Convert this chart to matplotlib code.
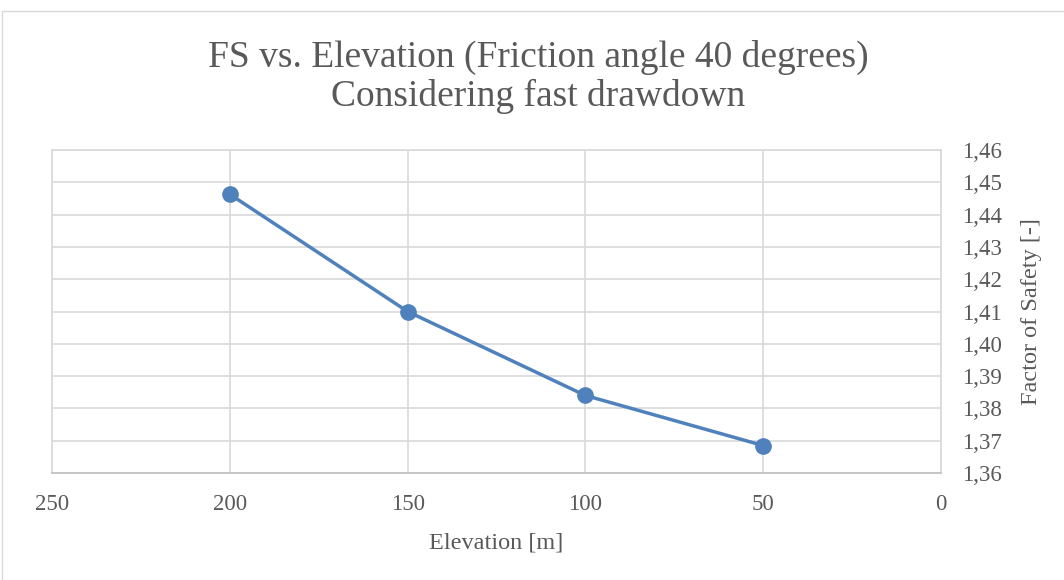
import matplotlib.pyplot as plt
from matplotlib.patches import Rectangle
from matplotlib.ticker import FuncFormatter

elevation = [200, 150, 100, 50]
fs = [1.4463, 1.4100, 1.3840, 1.3685]
x_ticks = [250, 200, 150, 100, 50, 0]
y_ticks = [1.36, 1.37, 1.38, 1.39, 1.40, 1.41, 1.42, 1.43, 1.44, 1.45, 1.46]

plt.rcParams['font.family'] = ['Liberation Serif', 'DejaVu Serif']
txt = '#595959'
grid = '#d9d9d9'
blue = '#4f81bd'

fig = plt.figure(figsize=(10.64, 5.8), dpi=100)
# chart area border
fig.patches.append(Rectangle((2 / 1064, -0.01), 1.02, 1 - 11 / 580 + 0.01,
                             transform=fig.transFigure, fill=False,
                             edgecolor=grid, linewidth=1))

ax = fig.add_axes([52 / 1064, 1 - 473 / 580, (941 - 52) / 1064, (473 - 150) / 580])
ax.plot(elevation, fs, color=blue, linewidth=2.5, marker='o', markersize=11, zorder=3)

ax.set_xlim(250, 0)
ax.set_ylim(1.36, 1.46)
ax.set_xticks(x_ticks)
ax.set_yticks(y_ticks)
ax.yaxis.tick_right()
ax.yaxis.set_label_position('right')
ax.yaxis.set_major_formatter(FuncFormatter(lambda v, p: f'{v:.2f}'.replace('.', ',')))
ax.grid(True, color=grid, linewidth=1.2)
ax.set_axisbelow(True)
ax.tick_params(length=0, labelsize=16.5, labelcolor=txt)
ax.tick_params(axis='y', pad=15)
ax.tick_params(axis='x', pad=15)
for s in ['top', 'left', 'right']:
    ax.spines[s].set_color(grid)
    ax.spines[s].set_linewidth(1.2)
ax.spines['bottom'].set_color('#bfbfbf')
ax.spines['bottom'].set_linewidth(1.2)

ax.set_xlabel('Elevation [m]', fontsize=17.5, color=txt, labelpad=13)
ax.set_ylabel('Factor of Safety [-]', fontsize=17.5, color=txt, labelpad=14)

fig.text(538 / 1064, 1 - 77 / 580, 'FS vs. Elevation (Friction angle 40 degrees)\nConsidering fast drawdown',
         ha='center', va='center', fontsize=27, color=txt, linespacing=1.12)

fig.savefig('out.png', dpi=100)
